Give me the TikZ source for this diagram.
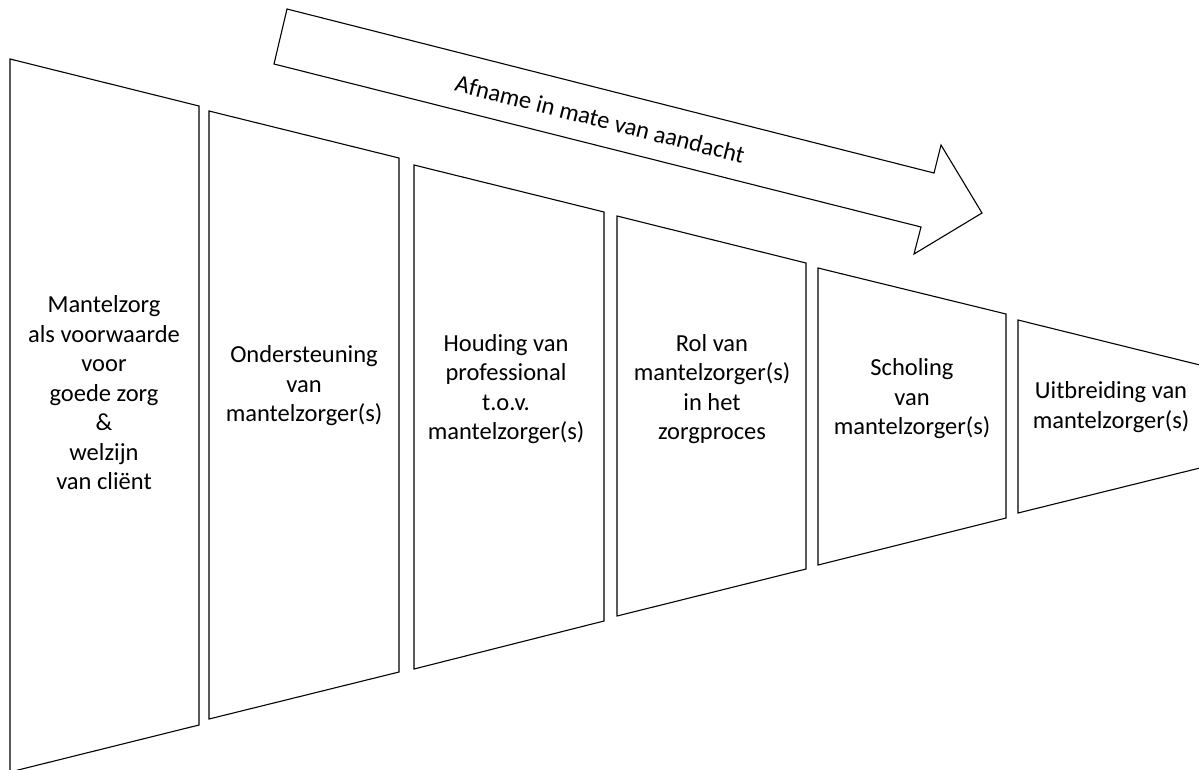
\documentclass[tikz,border=0pt]{standalone}
\usepackage{fontspec}
\setmainfont{Carlito}
\begin{document}
\begin{tikzpicture}[x=1pt, y=-1pt, line width=1.1pt,
		label/.style={align=center, inner sep=0pt, font=\fontsize{24.5}{29.5}\selectfont}]
				\useasboundingbox (0,0) rectangle (1199,769);
				\clip (0,0) rectangle (1199,769);
				% panels, narrowing to the right
				\draw (10,59) -- (199,106) -- (199,725) -- (10,772) -- cycle;
				\draw (209,111) -- (399,158) -- (399,672) -- (209,719) -- cycle;
				\draw (414,165) -- (604,212) -- (604,621) -- (414,669) -- cycle;
				\draw (617,216) -- (806,263) -- (806,569) -- (617,616) -- cycle;
				\draw (818,268) -- (1006,314) -- (1006,518) -- (818,565) -- cycle;
				\draw (1018,320) -- (1212,368) -- (1212,465) -- (1018,513) -- cycle;
				% big arrow
				\draw (287,9) -- (934,173) -- (941,145) -- (982,213) -- (914,254) -- (921,227) -- (274,64) -- cycle;
				\node[label, rotate=-14.2] (afname) at (600,119) {Afname in mate van aandacht};
				\node[label] (mantelzorg) at (104,393) {Mantelzorg\\als voorwaarde\\voor\\goede zorg\\\&\\welzijn\\van cliënt};
				\node[label] (ondersteuning) at (304,386) {Ondersteuning\\van\\mantelzorger(s)};
				\node[label] (houding) at (506,389) {Houding van\\professional\\t.o.v.\\mantelzorger(s)};
				\node[label] (rol) at (712,389) {Rol van\\mantelzorger(s)\\in het\\zorgproces};
				\node[label] (scholing) at (912,399) {Scholing\\van\\mantelzorger(s)};
				\node[label] (uitbreiding) at (1111,407) {Uitbreiding van\\mantelzorger(s)};
			\end{tikzpicture}
\end{document}
